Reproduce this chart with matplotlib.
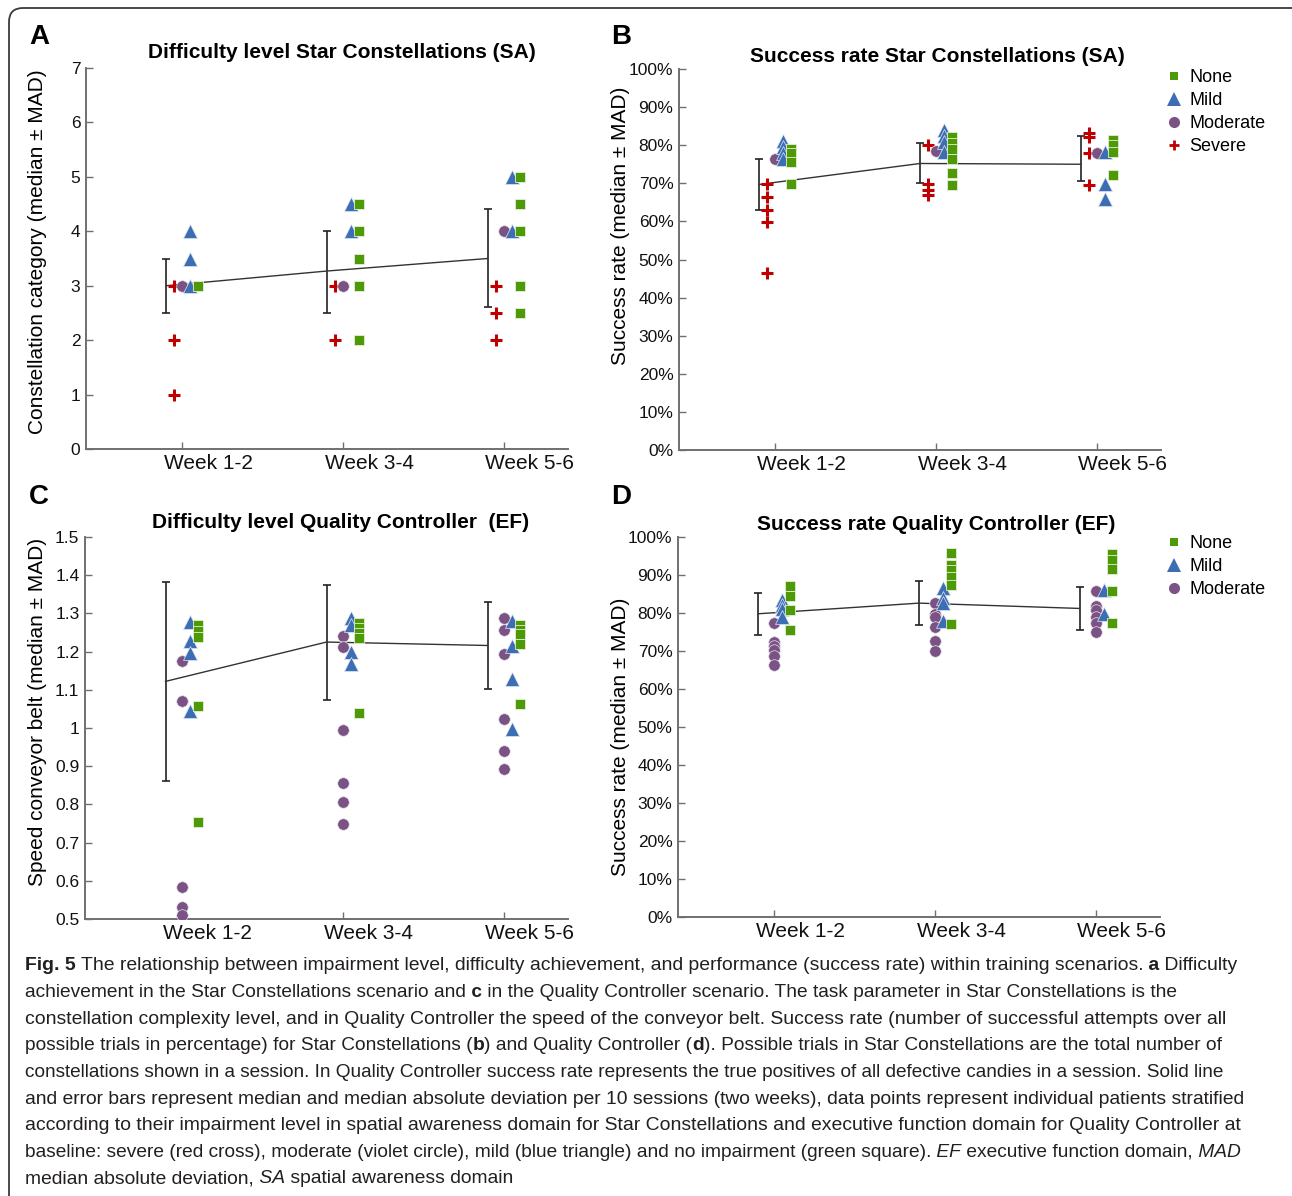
import matplotlib
matplotlib.use('Agg')
import matplotlib.pyplot as plt
from matplotlib.patches import FancyBboxPatch
from matplotlib.lines import Line2D
from matplotlib.ticker import FuncFormatter
from matplotlib.transforms import IdentityTransform, ScaledTranslation

plt.rcParams['font.family'] = ['Liberation Sans', 'DejaVu Sans']

# ---------------- data ----------------
weeks = ['Week 1-2', 'Week 3-4', 'Week 5-6']
group_labels = ['None', 'Mild', 'Moderate', 'Severe']

# Panel A: Difficulty level Star Constellations (SA)
a_median = [3.0, 3.27, 3.5]
a_low = [2.5, 2.5, 2.6]
a_high = [3.5, 4.0, 4.41]
a_severe = [[3, 2, 1], [3, 2], [3, 2.5, 2]]
a_moderate = [[3], [3], [4]]
a_mild = [[4, 3.5, 3], [4.5, 4], [5, 4]]
a_none = [[3], [4.5, 4, 3.5, 3, 2], [5, 4.5, 4, 3, 2.5]]

# Panel B: Success rate Star Constellations (SA), percent
b_median = [69.7, 75.2, 75.0]
b_low = [62.9, 70.2, 70.5]
b_high = [76.5, 80.5, 82.3]
b_severe = [[69.7, 66.5, 62.9, 59.9, 46.5], [80.0, 69.8, 68.3, 66.9], [83.3, 82.1, 77.9, 69.6]]
b_moderate = [[76.3], [78.6], [77.9]]
b_mild = [[81.0, 79.5, 78.0, 76.3], [84.0, 82.4, 80.9, 78.3], [78.3, 69.7, 66.0]]
b_none = [[79.0, 77.9, 75.7, 69.7], [82.2, 80.6, 78.9, 76.3, 72.6, 69.6], [81.4, 80.1, 78.3, 72.2]]

# Panel C: Difficulty level Quality Controller (EF)
c_median = [1.122, 1.225, 1.216]
c_low = [0.862, 1.074, 1.102]
c_high = [1.383, 1.375, 1.329]
c_moderate = [[1.175, 1.070, 0.583, 0.531, 0.510],
              [1.240, 1.213, 0.996, 0.857, 0.805, 0.748],
              [1.288, 1.257, 1.194, 1.024, 0.939, 0.892]]
c_mild = [[1.278, 1.227, 1.196, 1.044], [1.288, 1.269, 1.199, 1.168], [1.281, 1.214, 1.129, 0.997]]
c_none = [[1.270, 1.255, 1.238, 1.057, 0.753], [1.275, 1.262, 1.249, 1.236, 1.039],
          [1.270, 1.257, 1.247, 1.221, 1.062]]

# Panel D: Success rate Quality Controller (EF), percent
d_median = [79.8, 82.6, 81.2]
d_low = [74.3, 76.8, 75.6]
d_high = [85.2, 88.5, 86.8]
d_moderate = [[77.5, 72.4, 71.2, 70.2, 68.6, 66.3],
              [82.6, 79.7, 78.9, 76.3, 72.7, 69.9],
              [85.7, 81.8, 80.9, 78.9, 77.5, 74.9]]
d_mild = [[83.5, 82.2, 81.1, 78.9], [86.6, 83.9, 82.6, 78.0], [86.1, 79.7]]
d_none = [[87.2, 84.6, 80.9, 75.4], [95.8, 92.7, 91.4, 89.6, 87.5, 77.2], [95.6, 94.0, 91.6, 85.9, 77.4]]

# ---------------- style ----------------
W, H = 1292, 1196
GREEN, BLUE, PURPLE, RED = '#4e9a06', '#3d6db2', '#7a5384', '#c00000'
SPINE = '#707070'
styles = {
    'severe': dict(marker='+', color=RED, ms=8, mew=2.2, mec=RED, off=-0.05),
    'moderate': dict(marker='o', color=PURPLE, ms=8.3, mew=0.5, mec='#e8e0ea', off=0.0),
    'mild': dict(marker='^', color=BLUE, ms=10, mew=0.5, mec='#dfe6f2', off=0.05),
    'none': dict(marker='s', color=GREEN, ms=7.2, mew=0.6, mec='#e3efd8', off=0.10),
}
ERR_OFF = -0.10

fig = plt.figure(figsize=(W / 100, H / 100), dpi=100)


def rect(l, r, t, b):
    return [l / W, 1 - b / H, (r - l) / W, (b - t) / H]


def draw_panel(ax, median, low, high, groups, ylim, yticks, fmt):
    xs = [1, 2, 3]
    ex = [x + ERR_OFF for x in xs]
    yerr = [[m - lo for m, lo in zip(median, low)], [hi - m for m, hi in zip(median, high)]]
    ax.errorbar(ex, median, yerr=yerr, fmt='none', ecolor='#222222', elinewidth=1.2,
                capsize=3.2, capthick=1.2, zorder=2)
    ax.plot(ex, median, color='#333333', lw=1.0, zorder=2)
    for name, vals in groups:
        st = styles[name]
        for x, v in zip(xs, vals):
            ax.plot([x + st['off']] * len(v), v, linestyle='none', marker=st['marker'],
                    color=st['color'], ms=st['ms'], mew=st['mew'], mec=st['mec'], zorder=3)
    ax.set_xlim(0.4, 3.4)
    ax.set_ylim(*ylim)
    ax.set_xticks(xs)
    ax.set_xticklabels(weeks)
    ax.set_yticks(yticks)
    ax.yaxis.set_major_formatter(FuncFormatter(fmt))
    for s in ['top', 'right']:
        ax.spines[s].set_visible(False)
    for s in ['left', 'bottom']:
        ax.spines[s].set_color(SPINE)
        ax.spines[s].set_linewidth(1.4)
    ax.tick_params(axis='both', direction='in', length=5, width=1.0, color=SPINE,
                   labelcolor='#111111')
    ax.tick_params(axis='y', labelsize=12.5, pad=4)
    ax.tick_params(axis='x', labelsize=15, pad=3.5)
    shift = ScaledTranslation(26 / 100, 0, fig.dpi_scale_trans)
    for lab in ax.get_xticklabels():
        lab.set_transform(lab.get_transform() + shift)


fmt_num = lambda v, p: '%g' % round(v, 2)
fmt_pct = lambda v, p: '%d%%' % round(v)

axA = fig.add_axes(rect(86, 568, 68, 449))
draw_panel(axA, a_median, a_low, a_high,
           [('severe', a_severe), ('moderate', a_moderate), ('mild', a_mild), ('none', a_none)],
           (0, 7), list(range(0, 8)), fmt_num)

axB = fig.add_axes(rect(679, 1161, 69, 450))
draw_panel(axB, b_median, b_low, b_high,
           [('severe', b_severe), ('moderate', b_moderate), ('mild', b_mild), ('none', b_none)],
           (0, 100), list(range(0, 101, 10)), fmt_pct)

axC = fig.add_axes(rect(85, 568, 537, 919))
draw_panel(axC, c_median, c_low, c_high,
           [('moderate', c_moderate), ('mild', c_mild), ('none', c_none)],
           (0.5, 1.5), [0.5 + 0.1 * i for i in range(11)], fmt_num)

axD = fig.add_axes(rect(678, 1160, 537, 917))
draw_panel(axD, d_median, d_low, d_high,
           [('moderate', d_moderate), ('mild', d_mild), ('none', d_none)],
           (0, 100), list(range(0, 101, 10)), fmt_pct)

# titles, panel letters, axis labels
def ftext(x, y, s, **kw):
    return fig.text(x / W, 1 - y / H, s, **kw)

ftext(342, 52, 'Difficulty level Star Constellations (SA)', ha='center', va='center', fontsize=15, fontweight='bold')
ftext(937, 57, 'Success rate Star Constellations (SA)', ha='center', va='center', fontsize=15, fontweight='bold')
ftext(341, 523, 'Difficulty level Quality Controller  (EF)', ha='center', va='center', fontsize=15, fontweight='bold')
ftext(936, 525, 'Success rate Quality Controller (EF)', ha='center', va='center', fontsize=15, fontweight='bold')

for x, y, s in [(39, 37, 'A'), (621, 37, 'B'), (39, 497, 'C'), (621, 497, 'D')]:
    ftext(x, y, s, ha='center', va='center', fontsize=20, fontweight='bold')

ftext(38, 252, 'Constellation category (median ± MAD)', rotation=90, ha='center', va='center', fontsize=15)
ftext(621, 226, 'Success rate (median ± MAD)', rotation=90, ha='center', va='center', fontsize=15)
ftext(38, 712, 'Speed conveyor belt (median ± MAD)', rotation=90, ha='center', va='center', fontsize=15)
ftext(621, 737, 'Success rate (median ± MAD)', rotation=90, ha='center', va='center', fontsize=15)

# legends
def legend_handles(names):
    hs = []
    for n in names:
        st = styles[n]
        ms = {'none': 6.0, 'mild': 9.5, 'moderate': 8, 'severe': 7}[n]
        hs.append(Line2D([], [], linestyle='none', marker=st['marker'], color=st['color'],
                         ms=ms, mew=2.0 if n == 'severe' else 0))
    return hs

names4 = ['none', 'mild', 'moderate', 'severe']
leg_kw = dict(loc='upper left', frameon=False, fontsize=13, handlelength=0.8,
              handletextpad=0.45, labelspacing=0.33, borderpad=0, borderaxespad=0)
fig.legend(legend_handles(names4), group_labels, bbox_to_anchor=(1167 / W, 1 - 69 / H), **leg_kw)
fig.legend(legend_handles(names4[:3]), group_labels[:3], bbox_to_anchor=(1167 / W, 1 - 535 / H), **leg_kw)

# frame
frame = FancyBboxPatch((9, -20), 1320, H - 8 + 20, boxstyle='round,pad=0,rounding_size=14',
                       transform=IdentityTransform(), fill=False, edgecolor='#3a3a3a', lw=1.3)
fig.add_artist(frame)

# caption
cap_lines = [
    [('Fig. 5', 'b'), (' The relationship between impairment level, difficulty achievement, and performance (success rate) within training scenarios.', 'r'), (' a', 'b'), (' Difficulty', 'r')],
    [('achievement in the Star Constellations scenario and', 'r'), (' c', 'b'), (' in the Quality Controller scenario. The task parameter in Star Constellations is the', 'r')],
    [('constellation complexity level, and in Quality Controller the speed of the conveyor belt. Success rate (number of successful attempts over all', 'r')],
    [('possible trials in percentage) for Star Constellations (', 'r'), ('b', 'b'), (') and Quality Controller (', 'r'), ('d', 'b'), ('). Possible trials in Star Constellations are the total number of', 'r')],
    [('constellations shown in a session. In Quality Controller success rate represents the true positives of all defective candies in a session. Solid line', 'r')],
    [('and error bars represent median and median absolute deviation per 10 sessions (two weeks), data points represent individual patients stratified', 'r')],
    [('according to their impairment level in spatial awareness domain for Star Constellations and executive function domain for Quality Controller at', 'r')],
    [('baseline: severe (red cross), moderate (violet circle), mild (blue triangle) and no impairment (green square).', 'r'), (' EF', 'i'), (' executive function domain,', 'r'), (' MAD', 'i')],
    [('median absolute deviation,', 'r'), (' SA', 'i'), (' spatial awareness domain', 'r')],
]
cap_right = [1244, 1188, 1229, 1234, 1243, 1254, 1250, 1250, None]
cap_family = ['Liberation Sans Narrow', 'Liberation Sans', 'DejaVu Sans']
seg_style = {'r': {}, 'b': {'fontweight': 'bold'}, 'i': {'fontstyle': 'italic'}}
renderer = fig.canvas.get_renderer()
X0 = 25


def draw_caption_line(segs, y, size):
    x = X0
    arts = []
    for s, st in segs:
        t = fig.text(x / W, 1 - y / H, s, fontsize=size, ha='left', va='center',
                     family=cap_family, color='#231f20', **seg_style[st])
        x += t.get_window_extent(renderer).width
        arts.append(t)
    return x, arts


base = 14.0
sizes = []
for segs, right in zip(cap_lines, cap_right):
    if right is None:
        continue
    xe, arts = draw_caption_line(segs, 0, base)
    for a in arts:
        a.remove()
    sizes.append(base * (right - X0) / (xe - X0))
mean_size = sum(sizes) / len(sizes)
for i, segs in enumerate(cap_lines):
    size = sizes[i] if i < len(sizes) else mean_size
    draw_caption_line(segs, 966 + 26.6 * i, size)

fig.savefig('out.png', dpi=100)
